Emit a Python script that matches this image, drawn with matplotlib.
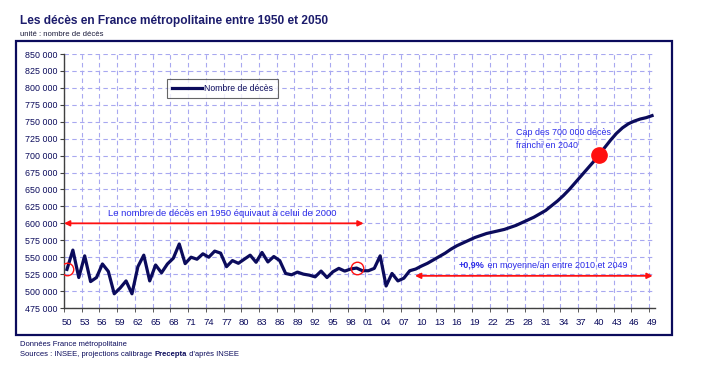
import matplotlib.pyplot as plt
import matplotlib
from matplotlib.patches import Rectangle
from matplotlib.ticker import FuncFormatter, MultipleLocator, FixedLocator
import numpy as np

matplotlib.rcParams.update({
    'font.family': ['Liberation Sans', 'DejaVu Sans'],
    'font.size': 7,
})

# données
annees = list(range(1950, 2050))
deces = [
    532000, 560500, 520000, 552000, 514000, 520000, 540000, 529000, 496000, 504500,
    515000, 496000, 536000, 553000, 515000, 538500, 527000, 540000, 548500, 569500,
    540500, 550000, 547000, 555000, 550000, 559000, 556000, 536000, 545000, 541000,
    547000, 553000, 542500, 557000, 543000, 551000, 545000, 526000, 524000, 528000,
    525000, 523500, 521000, 529500, 520000, 528500, 533500, 529500, 532500, 534000,
    530000, 530000, 533500, 552000, 507500, 526000, 515000, 519000, 530000, 532500,
    537000, 541000, 546000, 551000, 556000, 562000, 567000, 571000, 575000, 579000,
    582000, 585000, 587000, 589000, 591000, 594000, 597000, 601000, 605000, 609000,
    614000, 619000, 626000, 633000, 641000, 650000, 660000, 670000, 680000, 690000,
    701000, 712000, 723000, 733000, 741000, 747000, 751000, 754000, 756000, 759000,
]
annees_cercles = [1950, 1999]
annee_cap = 2040

navy = '#0b0b5c'
bleu = '#2a2ae8'
rouge = '#ff1010'
grille = '#a8a8f0'

fig = plt.figure(figsize=(7.09, 3.71), dpi=100)
ax = fig.add_axes([64/709, 1-308/371, (655-64)/709, (308-54)/371])

ax.plot(annees, deces, color=navy, lw=2.3, label='Nombre de décès', zorder=4,
        solid_joinstyle='round')

# cercles rouges 1950 / 1999
for a in annees_cercles:
    ax.plot(a, deces[annees.index(a)], 'o', ms=9, mfc='none', mec=rouge, mew=1.0, zorder=5)
ax.plot(annee_cap, deces[annees.index(annee_cap)], 'o', ms=11, color=rouge, zorder=6)

# flèches
ax.annotate('', xy=(1949.5, 600000), xytext=(2000.2, 600000),
            arrowprops=dict(arrowstyle='<|-|>', color=rouge, lw=1.3,
                            mutation_scale=8, shrinkA=0, shrinkB=0), zorder=3)
ax.text(1976.2, 608000, 'Le nombre de décès en 1950 équivaut à celui de 2000',
        color=bleu, ha='center', va='bottom', fontsize=6.8)
ax.annotate('', xy=(2008.9, 522500), xytext=(2049.1, 522500),
            arrowprops=dict(arrowstyle='<|-|>', color=rouge, lw=1.3,
                            mutation_scale=8, shrinkA=0, shrinkB=0), zorder=3)
ax.text(2026.0, 709000, 'Cap des 700 000 décès\nfranchi en 2040', color=bleu,
        ha='left', va='bottom', fontsize=6.4, linespacing=1.45)

# axes
ax.set_xlim(1949.5, 2049.5)
ax.set_ylim(475000, 850000)
ax.yaxis.set_major_locator(MultipleLocator(25000))
ax.yaxis.set_major_formatter(FuncFormatter(lambda v, p: f'{int(v):,}'.replace(',', ' ')))
ax.xaxis.set_major_locator(FixedLocator(annees[::3]))
ax.xaxis.set_major_formatter(FuncFormatter(lambda v, p: f'{int(round(v)) % 100:02d}'))
ax.xaxis.set_minor_locator(FixedLocator(np.arange(1949.5, 2050, 3)))
ax.tick_params(axis='x', which='major', length=0, pad=7, labelsize=6.8, labelcolor=navy)
ax.tick_params(axis='x', which='minor', length=3, color='#404040')
ax.tick_params(axis='y', length=3, pad=2, labelsize=6.4, labelcolor=navy, color='#404040')
ax.grid(True, which='minor', axis='x', color=grille, ls=(0, (4, 3)), lw=0.8)
ax.grid(True, which='major', axis='y', color=grille, ls=(0, (4, 3)), lw=0.8)
for s in ['top', 'right']:
    ax.spines[s].set_visible(False)
for s in ['left', 'bottom']:
    ax.spines[s].set_color('#404040')
    ax.spines[s].set_linewidth(1.0)

leg = ax.legend(loc='upper left', bbox_to_anchor=((167-64)/591, 1-(79-54)/254),
                fontsize=6.2, frameon=True, fancybox=False, handlelength=3.5,
                handletextpad=0.2, borderpad=0.6, borderaxespad=0)
leg.get_frame().set_edgecolor('#404040')
leg.get_frame().set_linewidth(0.8)
for t in leg.get_texts():
    t.set_color(navy)

# cadre et textes
fig.patches.append(Rectangle((16/709, 1-335/371), (672-16)/709, (335-41)/371,
                             transform=fig.transFigure, fill=False,
                             edgecolor=navy, lw=1.6))
fig.text(20/709, 1-21/371, 'Les décès en France métropolitaine entre 1950 et 2050',
         fontsize=8.6, fontweight='bold', color='#1c1c6c', va='center')
fig.text(20/709, 1-34/371, 'unité : nombre de décès', fontsize=5.6, color='#1c1c3c', va='center')
fig.text(20/709, 1-344/371, 'Données France métropolitaine', fontsize=5.5, color=navy, va='center')

# textes composés (partie en gras)
fig.canvas.draw()
rend = fig.canvas.get_renderer()


def suite(t, texte, **kw):
    bb = t.get_window_extent(renderer=rend)
    x, y = t.get_position()
    return fig.text(bb.x1 / fig.dpi / 7.09, y, texte, **kw)


t1 = fig.text(20/709, 1-355/371, 'Sources : INSEE, projections calibrage ', fontsize=5.5,
              color=navy, va='center')
t2 = suite(t1, 'Precepta', fontsize=5.5, color=navy, va='center', fontweight='bold')
suite(t2, " d'après INSEE", fontsize=5.5, color=navy, va='center')

p1 = fig.text(459/709, 1-265/371, '+0,9%', fontsize=6.5, color=bleu, va='center',
              fontweight='bold')
suite(p1, ' en moyenne/an entre 2010 et 2049', fontsize=6.5, color=bleu, va='center')

fig.savefig('out.png', dpi=100)
